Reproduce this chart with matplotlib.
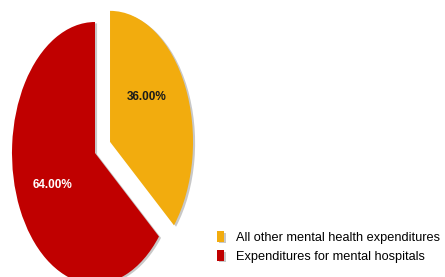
import matplotlib
matplotlib.use("Agg")
import matplotlib.pyplot as plt
import matplotlib.patheffects as pe

categories = ["All other mental health expenditures", "Expenditures for mental hospitals"]
values = [36.0, 64.0]
colors = ["#F2AC0E", "#C00000"]
explode = [0.2, 0.0]

W, H = 445, 277
fig = plt.figure(figsize=(W / 100, H / 100), dpi=100)
ax = fig.add_axes([0, 0, 1, 1])

wedges, texts, autotexts = ax.pie(
    values, colors=colors, explode=explode, startangle=90, counterclock=False,
    autopct="%.2f%%", pctdistance=0.57,
    wedgeprops=dict(linewidth=0),
    textprops=dict(fontsize=8.5, fontweight="bold",
                   family=["Liberation Sans", "DejaVu Sans"]),
)
for w in wedges:
    w.set_path_effects([pe.SimplePatchShadow(offset=(1.5, -1.0), shadow_rgbFace="#c8c8c8", alpha=1.0),
                        pe.Normal()])
autotexts[0].set_color("#1a1a1a")
autotexts[1].set_color("white")
# nudge the upper label toward the reference placement
x0, y0 = autotexts[0].get_position()
autotexts[0].set_position((x0 - 0.07, y0 + 0.1))

cx, cy, rx, ry = 95, 124, 83, 131
ax.set_aspect("auto")
ax.set_xlim(-cx / rx, (W - cx) / rx)
ax.set_ylim(-cy / ry, (H - cy) / ry)
ax.axis("off")

leg = ax.legend(wedges, categories, loc="lower right", bbox_to_anchor=(1.0, 0.033),
                frameon=False, handlelength=0.55, handleheight=0.9, handletextpad=0.9,
                labelspacing=0.5, borderaxespad=0.0,
                prop=dict(family=["Liberation Sans", "DejaVu Sans"], size=9.2))
for h in leg.legend_handles:
    h.set_path_effects([pe.SimplePatchShadow(offset=(1.2, -1.2), shadow_rgbFace="#c8c8c8", alpha=1.0),
                        pe.Normal()])

fig.savefig("out.png", dpi=100)
